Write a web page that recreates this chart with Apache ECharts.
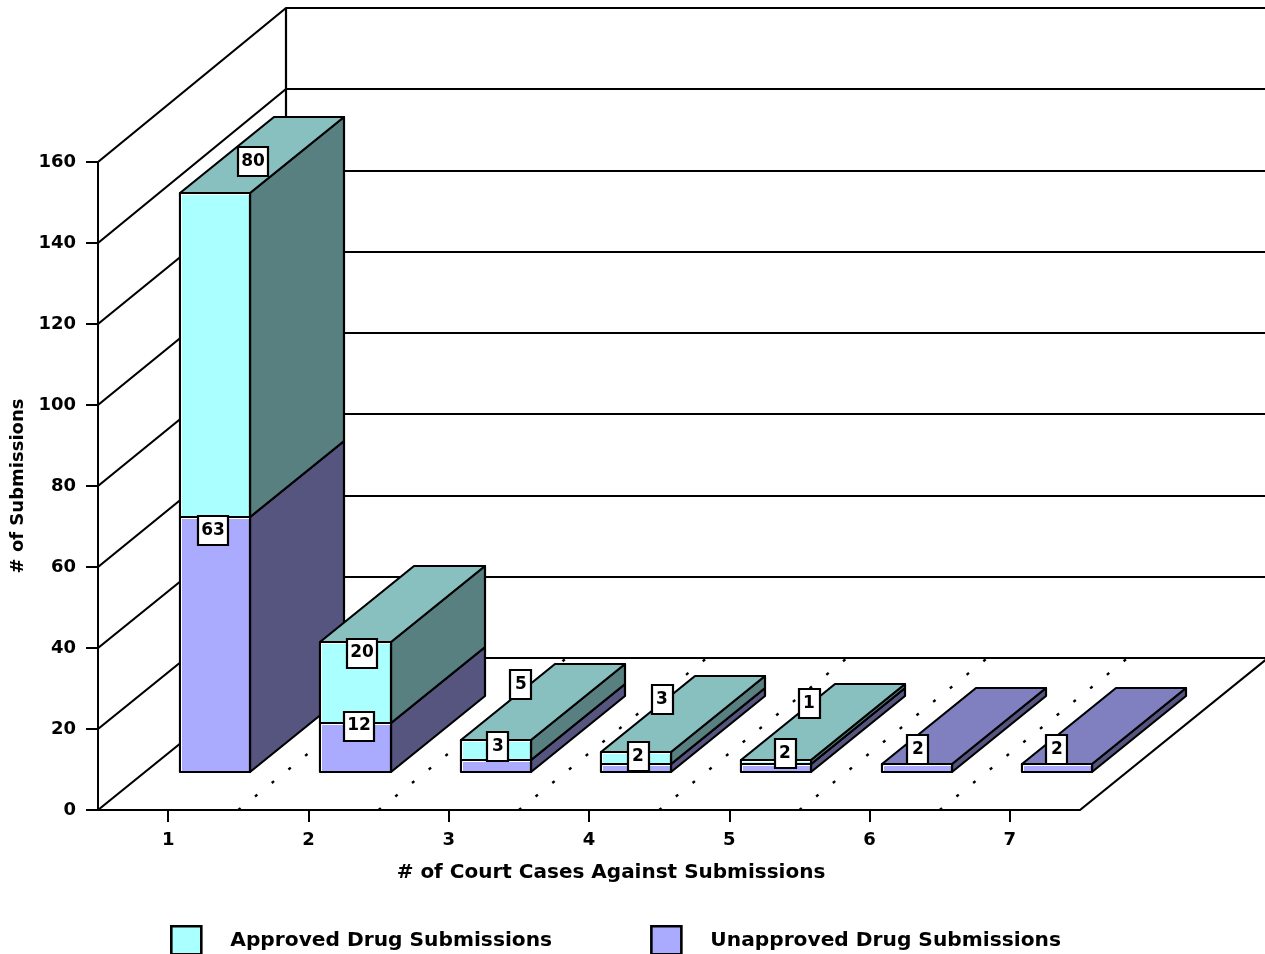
<!DOCTYPE html>
<html>
<head>
<meta charset="utf-8">
<title># of Submissions by # of Court Cases</title>
<script src="https://cdn.jsdelivr.net/npm/echarts@6/dist/echarts.min.js"></script>
<style>
  html, body { margin: 0; padding: 0; background: #fff; }
  #chart { width: 1265px; height: 954px; }
</style>
</head>
<body>
<div id="chart"></div>
<script>
// Submissions per number of court cases
const categories = ['1', '2', '3', '4', '5', '6', '7'];
const approved = [80, 20, 5, 3, 1, 0, 0];
const unapproved = [63, 12, 3, 2, 2, 2, 2];
const valueTicks = [0, 20, 40, 60, 80, 100, 120, 140, 160];

// Where each value tag sits relative to the front-top centre of its block
const approvedTagShift = [[38, -31], [7, 11], [25, -55], [26, -52], [33, -56], null, null];
const unapprovedTagShift = [[-2, 14], [4, 3], [2, -13], [2, -7], [9, -10], [1, -14], [0, -14]];

// Oblique projection: the floor recedes by this much from front to back
const DEPTH_X = 188;
const DEPTH_Y = -152;
const BAR_FRONT = 0.25;
const BAR_BACK = 0.75;

const FONT = '"DejaVu Sans"';
const INK = '#000';
const LINE = 2.2;
const APPROVED = { front: '#aaffff', top: '#88c0c0', side: '#588080' };
const UNAPPROVED = { front: '#aaaaff', top: '#8080c0', side: '#555580' };

const R = Math.round;

// One block of a stacked bar: side, top and front faces
function block(params, api, colors) {
  const cat = api.value(0);
  const lo = api.coord([cat, api.value(1)]);
  const hi = api.coord([cat, api.value(2)]);
  if (api.value(1) === api.value(2)) return null;
  const half = api.size([1, 0])[0] * 0.25;
  const fx = DEPTH_X * BAR_FRONT;
  const fy = DEPTH_Y * BAR_FRONT;
  const dx = DEPTH_X * (BAR_BACK - BAR_FRONT);
  const dy = DEPTH_Y * (BAR_BACK - BAR_FRONT);
  const x0 = R(lo[0] + fx - half);
  const x1 = R(lo[0] + fx + half);
  const yLo = R(lo[1] + fy);
  const yHi = R(hi[1] + fy);
  const bx = R(dx);
  const by = R(dy);
  const stroke = { stroke: INK, lineWidth: LINE, lineJoin: 'round' };
  const face = (points, fill) => ({
    type: 'polygon',
    shape: { points },
    style: Object.assign({ fill }, stroke)
  });
  return {
    type: 'group',
    children: [
      face([[x1, yLo], [x1 + bx, yLo + by], [x1 + bx, yHi + by], [x1, yHi]], colors.side),
      face([[x0, yHi], [x1, yHi], [x1 + bx, yHi + by], [x0 + bx, yHi + by]], colors.top),
      face([[x0, yLo], [x1, yLo], [x1, yHi], [x0, yHi]], colors.front),
      {
        type: 'polyline',
        shape: { points: [[x0 + 1.5, yLo - 1], [x0 + 1.5, yHi + 1.5], [x1 - 1, yHi + 1.5]] },
        style: { stroke: '#fff', lineWidth: 1, fill: null }
      }
    ]
  };
}

// Back and left walls, one rung for each value tick
function wallRung(params, api) {
  const v = api.value(0);
  const band = api.size([1, 0])[0];
  const p = api.coord([0, v]);
  const x = R(p[0] - band / 2);
  const y = R(p[1]);
  const backY = R(p[1] + DEPTH_Y - v / 80);
  const backX = x + DEPTH_X;
  const rung = {
    type: 'polyline',
    shape: { points: [[x, y], [backX, backY], [backX + band * categories.length, backY]] },
    style: { stroke: INK, lineWidth: LINE, fill: null, lineJoin: 'round' }
  };
  if (v !== 0) return rung;
  const top = api.coord([0, valueTicks[valueTicks.length - 1]]);
  const topBack = R(top[1] + DEPTH_Y - valueTicks[valueTicks.length - 1] / 80);
  return {
    type: 'group',
    children: [rung, {
      type: 'line',
      shape: { x1: backX, y1: backY, x2: backX, y2: topBack },
      style: { stroke: INK, lineWidth: LINE }
    }]
  };
}

// Floor dividers: dotted between categories, solid along the right edge
function floorDivider(params, api) {
  const k = api.value(0);
  const band = api.size([1, 0])[0];
  const p = api.coord([k, 0]);
  const x = p[0] + band / 2;
  const last = k === categories.length - 1;
  return {
    type: 'line',
    shape: { x1: x, y1: p[1], x2: x + DEPTH_X, y2: p[1] + DEPTH_Y },
    style: last
      ? { stroke: INK, lineWidth: LINE }
      : { stroke: INK, lineWidth: 2.4, lineDash: [3, 18.5] }
  };
}

// White value tag with a black frame
function valueTag(params, api) {
  const cat = api.value(0);
  const p = api.coord([cat, api.value(1)]);
  const text = String(api.value(2));
  const ax = p[0] + DEPTH_X * BAR_FRONT + api.value(3);
  const ay = p[1] + DEPTH_Y * BAR_FRONT + api.value(4);
  const w = text.length > 1 ? 30 : 21;
  const h = 29;
  return {
    type: 'group',
    children: [{
      type: 'rect',
      shape: { x: R(ax - w / 2), y: R(ay - h / 2), width: w, height: h },
      style: { fill: '#fff', stroke: INK, lineWidth: LINE }
    }, {
      type: 'text',
      x: R(ax),
      y: R(ay),
      style: {
        text,
        fill: INK,
        font: 'bold 17px ' + FONT,
        textAlign: 'center',
        textVerticalAlign: 'middle'
      }
    }]
  };
}

const tagRows = [];
categories.forEach((c, i) => {
  tagRows.push([i, unapproved[i], unapproved[i], unapprovedTagShift[i][0], unapprovedTagShift[i][1]]);
  if (approved[i] > 0) {
    tagRows.push([i, unapproved[i] + approved[i], approved[i], approvedTagShift[i][0], approvedTagShift[i][1]]);
  }
});

const chart = echarts.init(document.getElementById('chart'), null, { renderer: 'canvas' });
chart.setOption({
  animation: false,
  backgroundColor: '#fff',
  grid: { left: 98, right: 185, top: 162, bottom: 144, containLabel: false, outerBoundsMode: 'none' },
  legend: {
    left: 170,
    top: 925,
    padding: 0,
    itemWidth: 30,
    itemHeight: 28,
    itemGap: 98,
    selectedMode: false,
    icon: 'rect',
    data: ['Approved Drug Submissions', 'Unapproved Drug Submissions'],
    itemStyle: { borderColor: INK, borderWidth: 2.6 },
    textStyle: {
      color: INK,
      fontFamily: FONT,
      fontWeight: 'bold',
      fontSize: 20.2,
      padding: [0, 0, 0, 24]
    }
  },
  xAxis: {
    type: 'category',
    data: categories,
    boundaryGap: true,
    name: '# of Court Cases Against Submissions',
    nameLocation: 'middle',
    nameGap: 53,
    nameTextStyle: {
      color: INK, fontFamily: FONT, fontWeight: 'bold', fontSize: 20, padding: [0, 0, 0, 44]
    },
    axisLine: { show: true, lineStyle: { color: INK, width: 2 } },
    axisTick: { show: true, alignWithLabel: true, length: 12, lineStyle: { color: INK, width: 2 } },
    axisLabel: { color: INK, fontFamily: FONT, fontWeight: 'bold', fontSize: 18, margin: 21 },
    splitLine: { show: false }
  },
  yAxis: {
    type: 'value',
    min: 0,
    max: 160,
    interval: 20,
    name: '# of Submissions',
    nameLocation: 'middle',
    nameRotate: 90,
    nameGap: 64,
    nameTextStyle: { color: INK, fontFamily: FONT, fontWeight: 'bold', fontSize: 18, padding: [0, 0, 4, 0] },
    axisLine: { show: true, lineStyle: { color: INK, width: 2 } },
    axisTick: { show: true, length: 12, lineStyle: { color: INK, width: 2 } },
    axisLabel: { color: INK, fontFamily: FONT, fontWeight: 'bold', fontSize: 18, margin: 22 },
    splitLine: { show: false }
  },
  series: [
    {
      type: 'custom',
      z: 1,
      silent: true,
      clip: false,
      renderItem: wallRung,
      encode: { y: 0 },
      data: valueTicks.map(v => [v])
    },
    {
      type: 'custom',
      z: 1,
      silent: true,
      clip: false,
      renderItem: floorDivider,
      encode: { x: 0 },
      data: categories.map((c, i) => [i])
    },
    {
      name: 'Unapproved Drug Submissions',
      type: 'custom',
      z: 3,
      clip: false,
      itemStyle: { color: UNAPPROVED.front },
      renderItem: (p, api) => block(p, api, UNAPPROVED),
      encode: { x: 0, y: 2 },
      data: unapproved.map((v, i) => [i, 0, v])
    },
    {
      name: 'Approved Drug Submissions',
      type: 'custom',
      z: 4,
      clip: false,
      itemStyle: { color: APPROVED.front },
      renderItem: (p, api) => block(p, api, APPROVED),
      encode: { x: 0, y: 2 },
      data: approved.map((v, i) => [i, unapproved[i], unapproved[i] + v])
    },
    {
      type: 'custom',
      z: 5,
      silent: true,
      clip: false,
      renderItem: valueTag,
      encode: { x: 0, y: 1 },
      data: tagRows
    }
  ]
});
</script>
</body>
</html>
